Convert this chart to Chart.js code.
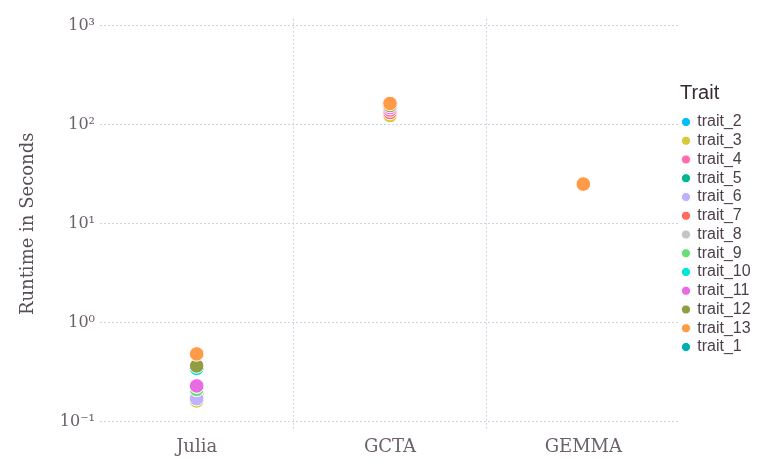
<!DOCTYPE html>
<html>
<head>
<meta charset="utf-8">
<script src="https://cdn.jsdelivr.net/npm/chart.js@4/dist/chart.umd.min.js"></script>
<style>
  html, body { margin: 0; padding: 0; background: #ffffff; }
  #wrap { width: 768px; height: 475px; position: relative; }
</style>
</head>
<body>
<div id="wrap"><canvas id="c" width="768" height="475"></canvas></div>
<script>
// ---- data ----
const categories = ['Julia', 'GCTA', 'GEMMA'];
const traitNames = ['trait_2', 'trait_3', 'trait_4', 'trait_5', 'trait_6', 'trait_7', 'trait_8',
                    'trait_9', 'trait_10', 'trait_11', 'trait_12', 'trait_13', 'trait_1'];
// runtime in seconds, one entry per trait (same order as traitNames)
const juliaSeconds = [0.166, 0.163, 0.357, 0.20, 0.172, 0.231, 0.19, 0.213, 0.347, 0.231, 0.368, 0.486, 0.36];
const gctaSeconds  = [128, 124, 141, 137, 134.5, 133, 145, 139.5, 153, 149.4, 156.5, 164, 150];
const gemmaSeconds = [null, null, null, null, null, null, null, null, null, null, null, 25.2, null];
const yTickValues = [0.1, 1, 10, 100, 1000];
const yTickLabels = ['10\u207B\u00B9', '10\u2070', '10\u00B9', '10\u00B2', '10\u00B3'];

// ---- styling ----
const traitColors = ['#00BFFF', '#D4CA3A', '#FF6DAE', '#00B78D', '#BFB1FF', '#FF6A5E', '#C4C4C4',
                     '#6BDE79', '#00E6D8', '#E76BE2', '#929D41', '#FF9B47', '#00AEB1'];
// drawing order, bottom -> top
const drawBottomToTop = ['trait_1', 'trait_2', 'trait_5', 'trait_8', 'trait_3', 'trait_6', 'trait_9',
                         'trait_7', 'trait_4', 'trait_10', 'trait_11', 'trait_12', 'trait_13'];

const datasets = traitNames.map((name, i) => ({
  label: name,
  data: [juliaSeconds[i], gctaSeconds[i], gemmaSeconds[i]],
  showLine: false,
  borderColor: traitColors[i],
  backgroundColor: traitColors[i],
  pointBackgroundColor: traitColors[i],
  pointBorderColor: '#ffffff',
  pointBorderWidth: 1,
  pointRadius: 7.3,
  pointHoverRadius: 7.3,
  pointStyle: 'circle',
  order: drawBottomToTop.length - drawBottomToTop.indexOf(name)
}));

const gridColor = '#D0D0E0';
const tickColor = '#6c606b';
const serif = "'DejaVu Serif', serif";
const sans = "'Liberation Sans', Arial, sans-serif";

new Chart(document.getElementById('c'), {
  type: 'line',
  data: { labels: categories, datasets },
  options: {
    responsive: false,
    animation: false,
    events: [],
    layout: { padding: { top: 18.7, right: 7.4, bottom: 0, left: 0 } },
    scales: {
      x: {
        type: 'category',
        offset: true,
        afterFit: s => { s.height = 46; },
        grid: {
          offset: true,
          drawTicks: false,
          lineWidth: 1,
          color: ctx => (ctx.type !== 'tick' || ctx.index === 0) ? 'rgba(0,0,0,0)' : gridColor
        },
        border: { display: false, dash: [2, 2] },
        ticks: {
          autoSkip: false,
          maxRotation: 0,
          padding: 8,
          color: tickColor,
          font: { family: serif, size: 18 }
        }
      },
      y: {
        type: 'logarithmic',
        min: 0.0849,
        max: 1177,
        afterFit: s => { s.width = 100; },
        afterBuildTicks: s => { s.ticks = yTickValues.map(v => ({ value: v })); },
        grid: { drawTicks: false, lineWidth: 1, color: gridColor },
        border: { display: false, dash: [2, 2] },
        ticks: {
          padding: 5,
          color: tickColor,
          font: { family: serif, size: 16 },
          callback: (v, i) => yTickLabels[i]
        },
        title: {
          display: true,
          text: 'Runtime in Seconds',
          color: '#5a4e59',
          font: { family: serif, size: 18, weight: 'normal' },
          padding: { top: 17.2, bottom: 0 }
        }
      }
    },
    plugins: {
      tooltip: { enabled: false },
      legend: {
        display: true,
        position: 'right',
        align: 'start',
        title: {
          display: true,
          text: 'Trait',
          color: '#362a35',
          position: 'start',
          font: { family: sans, size: 20, weight: 'normal' },
          padding: { top: 64.3, bottom: 4.25 }
        },
        labels: {
          usePointStyle: true,
          pointStyle: 'circle',
          boxWidth: 6.5,
          boxHeight: 6.5,
          padding: 2.75,
          color: '#4c404b',
          font: { family: sans, size: 16 },
          sort: (a, b) => a.datasetIndex - b.datasetIndex
        }
      }
    }
  }
});
</script>
</body>
</html>
